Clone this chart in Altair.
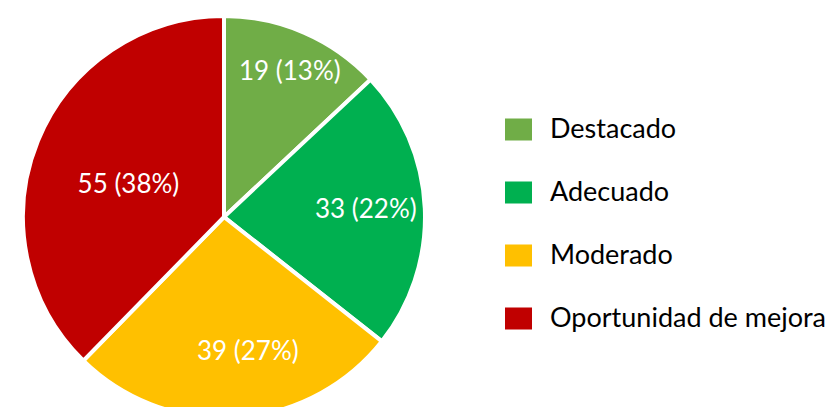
import altair as alt
import pandas as pd

categories = ["Destacado", "Adecuado", "Moderado", "Oportunidad de mejora"]
counts = [19, 33, 39, 55]
percent_labels = ["13%", "22%", "27%", "38%"]
colors = ["#70AD47", "#00B050", "#FFC000", "#C00000"]

df = pd.DataFrame({
    "categoria": categories,
    "valor": counts,
    "pct": percent_labels,
    "orden": list(range(len(categories))),
})
df["etiqueta"] = df["valor"].astype(str) + " (" + df["pct"] + ")"

FONT = "Lato"
CX, CY, R = 216, 209, 201

# label placement style (radius, dx, dy) per slice, like the original's best-fit labels
label_style = {
    "Destacado": (158, 3, 0),
    "Adecuado": (142, 0, -1),
    "Moderado": (137, 15, -2),
    "Oportunidad de mejora": (100, -3, 6),
}

base = alt.Chart(df).encode(
    theta=alt.Theta("valor:Q", stack=True),
    order=alt.Order("orden:Q"),
)

pie = base.mark_arc(outerRadius=R, stroke="white", strokeWidth=4).encode(
    x=alt.value(CX),
    y=alt.value(CY),
    color=alt.Color(
        "categoria:N",
        scale=alt.Scale(domain=categories, range=colors),
        sort=categories,
        legend=alt.Legend(
            title=None,
            orient="none",
            legendX=497,
            legendY=108,
            symbolType="M-1,-0.815H1V0.815H-1Z",
            symbolSize=729,
            symbolStrokeWidth=0,
            symbolOpacity=1,
            labelFont=FONT,
            labelFontSize=27,
            labelColor="#000000",
            labelOffset=18,
            rowPadding=35,
            labelLimit=400,
        ),
    ),
)

layers = [pie]
for cat in categories:
    r, dx, dy = label_style[cat]
    layers.append(
        base.mark_text(font=FONT, fontSize=26, color="white", radius=r, dx=dx, dy=dy)
        .encode(
            x=alt.value(CX),
            y=alt.value(CY),
            text="etiqueta:N",
            opacity=alt.condition(alt.datum.categoria == cat, alt.value(1), alt.value(0)),
        )
    )

chart = (
    alt.layer(*layers)
    .properties(width=824, height=399, padding=0, autosize=alt.AutoSizeParams(type="none"))
    .configure_view(stroke=None)
)

chart.save("out.html", embed_options={"renderer": "svg", "actions": False})
